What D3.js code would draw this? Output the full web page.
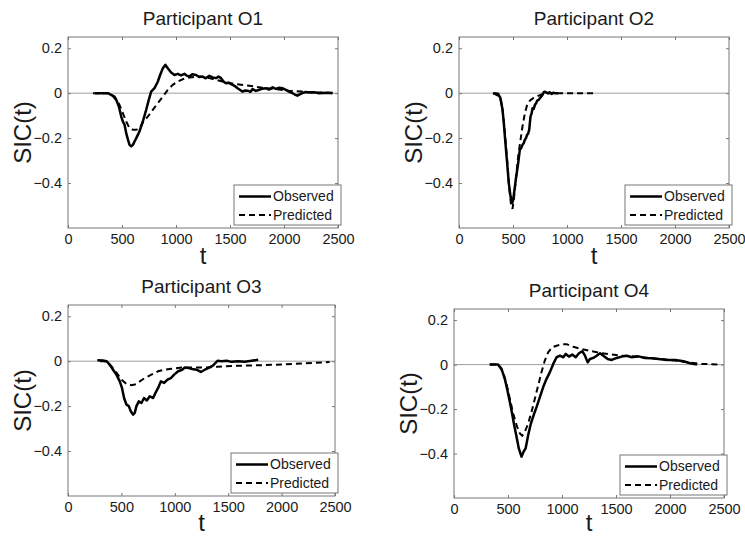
<!DOCTYPE html>
<html lang="en">
<head>
    <meta charset="UTF-8">
    <style>
        body {
            margin: 0;
            padding: 0;
            background-color: #fff;
            overflow: hidden;
        }

        #chart {
            display: block;
        }

        text {
            font-family: "Liberation Sans", Arial, sans-serif;
            fill: #1a1a1a;
        }

        .tick text {
            font-size: 14.5px;
        }

        .tick line {
            stroke: #777;
        }

        .box {
            fill: none;
            stroke: #777;
            stroke-width: 1px;
        }

        .zero {
            stroke: #888;
            stroke-width: 0.8px;
        }

        .observed {
            fill: none;
            stroke: #000;
            stroke-width: 2.5px;
            stroke-linejoin: round;
        }

        .predicted {
            fill: none;
            stroke: #000;
            stroke-width: 2px;
            stroke-dasharray: 6, 4;
        }
    </style>
</head>
<body>
    <svg id="chart"></svg>

    <script src="https://d3js.org/d3.v7.min.js"></script>
    <script>
        const width = 745;
        const height = 538;

        // chart data: [t, SIC(t)]
        const titles = ["Participant O1", "Participant O2", "Participant O3", "Participant O4"];
        const xTicks = [0, 500, 1000, 1500, 2000, 2500];
        const yTicks = [-0.4, -0.2, 0, 0.2];
        const legendLabels = ["Observed", "Predicted"];

        const observedO1 = [[250, 0], [369, 0], [416, -0.012], [447, -0.03], [471, -0.059], [493, -0.104], [508, -0.126],
            [524, -0.141], [539, -0.178], [555, -0.207], [570, -0.23], [585, -0.237], [601, -0.23], [616, -0.215],
            [632, -0.2], [662, -0.17], [693, -0.126], [724, -0.074], [748, -0.03], [770, 0.007], [801, 0.022],
            [832, 0.052], [853, 0.081], [878, 0.111], [902, 0.126], [924, 0.111], [955, 0.092], [986, 0.081],
            [1016, 0.086], [1047, 0.079], [1078, 0.086], [1100, 0.078], [1124, 0.074], [1150, 0.084], [1185, 0.081],
            [1215, 0.072], [1247, 0.074], [1275, 0.066], [1308, 0.077], [1340, 0.07], [1370, 0.067], [1395, 0.074],
            [1416, 0.067], [1440, 0.052], [1462, 0.044], [1490, 0.046], [1524, 0.037], [1550, 0.03], [1570, 0.022],
            [1595, 0.014], [1616, 0.007], [1640, 0.012], [1663, 0.011], [1690, 0.006], [1709, 0.018], [1740, 0.01],
            [1771, 0.015], [1800, 0.02], [1832, 0.022], [1860, 0.016], [1894, 0.026], [1925, 0.019], [1955, 0.024],
            [1985, 0.022], [2017, 0.015], [2050, 0.006], [2078, 0], [2100, -0.006], [2124, -0.011], [2150, -0.004],
            [2170, 0], [2200, 0.005], [2232, 0.003], [2280, 0.004], [2324, 0], [2400, 0.002], [2450, 0]];

        const predictedO1 = [[231, 0], [369, 0], [431, -0.015], [477, -0.052], [508, -0.089], [539, -0.126],
            [570, -0.156], [601, -0.163], [632, -0.163], [662, -0.156], [693, -0.13], [739, -0.104], [785, -0.074],
            [832, -0.044], [878, -0.015], [924, 0.015], [970, 0.037], [1016, 0.052], [1062, 0.062], [1124, 0.07],
            [1216, 0.074], [1308, 0.067], [1431, 0.052], [1555, 0.04], [1678, 0.033], [1801, 0.024], [1924, 0.018],
            [2047, 0.011], [2170, 0.007], [2293, 0.003], [2450, 0.002]];

        const observedO2 = [[315, 0], [362, -0.003], [384, -0.022], [403, -0.074], [415, -0.133], [430, -0.222],
            [446, -0.311], [461, -0.4], [477, -0.459], [492, -0.49], [500, -0.478], [508, -0.452], [526, -0.385],
            [548, -0.311], [563, -0.252], [575, -0.245], [588, -0.23], [600, -0.222], [610, -0.207], [620, -0.2],
            [631, -0.185], [640, -0.18], [650, -0.163], [662, -0.104], [672, -0.09], [681, -0.067], [692, -0.07],
            [703, -0.052], [714, -0.045], [724, -0.033], [737, -0.03], [749, -0.022], [762, -0.015], [774, -0.007],
            [786, 0.005], [798, 0.006], [812, 0.002], [826, 0], [840, 0.004], [857, -0.003], [872, 0.002],
            [888, 0], [919, 0]];

        const predictedO2 = [[315, 0], [378, -0.015], [403, -0.07], [424, -0.17], [446, -0.3], [464, -0.415],
            [480, -0.489], [495, -0.515], [508, -0.474], [526, -0.385], [548, -0.281], [570, -0.207], [588, -0.148],
            [610, -0.089], [631, -0.052], [656, -0.033], [687, -0.022], [733, -0.012], [780, -0.003], [842, 0],
            [1250, 0]];

        const observedO3 = [[275, 0.004], [328, 0.003], [360, 0], [391, -0.015], [422, -0.038], [453, -0.06],
            [485, -0.09], [506, -0.12], [525, -0.164], [547, -0.193], [569, -0.2], [588, -0.223], [609, -0.238],
            [625, -0.23], [641, -0.2], [663, -0.179], [688, -0.186], [712, -0.164], [738, -0.175], [766, -0.156],
            [797, -0.164], [819, -0.141], [844, -0.119], [869, -0.09], [900, -0.097], [932, -0.082], [963, -0.075],
            [994, -0.06], [1031, -0.045], [1069, -0.038], [1094, -0.028], [1125, -0.03], [1162, -0.035],
            [1204, -0.038], [1244, -0.048], [1281, -0.038], [1319, -0.03], [1359, -0.019], [1400, 0.002],
            [1437, 0], [1485, 0.002], [1532, -0.003], [1594, 0], [1656, -0.003], [1719, 0.002], [1781, 0.006]];

        const predictedO3 = [[300, 0], [343, 0], [406, -0.023], [453, -0.05], [500, -0.082], [547, -0.101],
            [594, -0.107], [625, -0.104], [672, -0.09], [719, -0.075], [781, -0.06], [844, -0.045], [906, -0.038],
            [969, -0.034], [1063, -0.028], [1156, -0.028], [1281, -0.028], [1400, -0.025], [1563, -0.021],
            [1719, -0.019], [1938, -0.016], [2200, -0.01], [2450, -0.004]];

        const observedO4 = [[331, 0], [408, 0], [440, -0.019], [470, -0.064], [495, -0.116], [517, -0.168],
            [538, -0.22], [557, -0.272], [579, -0.325], [600, -0.377], [625, -0.414], [644, -0.392], [663, -0.377],
            [687, -0.317], [712, -0.265], [737, -0.228], [765, -0.19], [795, -0.146], [826, -0.101], [857, -0.064],
            [888, -0.034], [919, 0.003], [950, 0.033], [981, 0.04], [1012, 0.033], [1034, 0.048], [1064, 0.036],
            [1095, 0.045], [1127, 0.033], [1157, 0.051], [1188, 0.06], [1213, 0.04], [1238, 0.01], [1259, 0.025],
            [1290, 0.03], [1321, 0.04], [1352, 0.051], [1383, 0.04], [1423, 0.025], [1461, 0.021], [1507, 0.03],
            [1553, 0.036], [1600, 0.04], [1646, 0.033], [1708, 0.037], [1770, 0.03], [1832, 0.028], [1893, 0.025],
            [1971, 0.021], [2048, 0.021], [2125, 0.015], [2187, 0.006], [2250, 0]];

        const predictedO4 = [[331, 0], [408, 0], [455, -0.034], [486, -0.087], [517, -0.153], [548, -0.22],
            [579, -0.272], [610, -0.31], [631, -0.32], [656, -0.302], [687, -0.265], [718, -0.212], [749, -0.153],
            [780, -0.093], [810, -0.034], [841, 0.018], [872, 0.055], [909, 0.078], [950, 0.085], [996, 0.092],
            [1043, 0.092], [1105, 0.08], [1182, 0.07], [1275, 0.06], [1368, 0.051], [1461, 0.045], [1553, 0.04],
            [1677, 0.036], [1801, 0.03], [1925, 0.025], [2048, 0.018], [2172, 0.01], [2296, 0.003], [2470, 0]];

        const observedSeries = [observedO1, observedO2, observedO3, observedO4];
        const predictedSeries = [predictedO1, predictedO2, predictedO3, predictedO4];

        // axes boxes in page pixels
        const boxes = [
            { left: 68, right: 338, top: 37, bottom: 228 },
            { left: 459, right: 729, top: 37, bottom: 228 },
            { left: 68, right: 335, top: 305, bottom: 496 },
            { left: 454, right: 724, top: 309, bottom: 498 }
        ];

        const svg = d3.select("#chart")
            .attr("width", width)
            .attr("height", height);

        const fmtY = d => d === 0 ? "0" : d3.format(".1f")(d);

        boxes.forEach((b, i) => {
            const x = d3.scaleLinear().domain([0, 2500]).range([b.left, b.right]);
            const y = d3.scaleLinear().domain([-0.6, 0.25]).range([b.bottom, b.top]);
            const g = svg.append("g");

            // zero reference line
            g.append("line")
                .attr("class", "zero")
                .attr("x1", b.left).attr("x2", b.right)
                .attr("y1", y(0)).attr("y2", y(0));

            // ticks on all four sides, pointing inward
            g.append("g")
                .attr("transform", `translate(0,${b.bottom})`)
                .call(d3.axisBottom(x).tickValues(xTicks).tickSize(-3).tickPadding(6).tickFormat(d3.format("d")))
                .call(a => a.select(".domain").remove());
            g.append("g")
                .attr("transform", `translate(0,${b.top})`)
                .call(d3.axisTop(x).tickValues(xTicks).tickSize(-3).tickFormat(""))
                .call(a => a.select(".domain").remove());
            g.append("g")
                .attr("transform", `translate(${b.left},0)`)
                .call(d3.axisLeft(y).tickValues(yTicks).tickSize(-3).tickPadding(6).tickFormat(fmtY))
                .call(a => a.select(".domain").remove());
            g.append("g")
                .attr("transform", `translate(${b.right},0)`)
                .call(d3.axisRight(y).tickValues(yTicks).tickSize(-3).tickFormat(""))
                .call(a => a.select(".domain").remove());

            g.selectAll(".tick text").attr("font-family", null).attr("font-size", null);

            g.append("rect")
                .attr("class", "box")
                .attr("x", b.left).attr("y", b.top)
                .attr("width", b.right - b.left).attr("height", b.bottom - b.top);

            const line = d3.line().x(d => x(d[0])).y(d => y(d[1]));

            g.append("path")
                .datum(predictedSeries[i])
                .attr("class", "predicted")
                .attr("d", line);
            g.append("path")
                .datum(observedSeries[i])
                .attr("class", "observed")
                .attr("d", line);

            // title and axis labels
            g.append("text")
                .attr("x", (b.left + b.right) / 2)
                .attr("y", b.top - 12)
                .attr("text-anchor", "middle")
                .attr("font-size", 19)
                .text(titles[i]);
            g.append("text")
                .attr("x", (b.left + b.right) / 2)
                .attr("y", Math.min(b.bottom + 36, height - 7))
                .attr("text-anchor", "middle")
                .attr("font-size", 24)
                .text("t");
            g.append("text")
                .attr("transform", `translate(${b.left - 37},${(b.top + b.bottom) / 2}) rotate(-90)`)
                .attr("text-anchor", "middle")
                .attr("font-size", 24)
                .text("SIC(t)");

            // legend
            const lx = b.right - 104, ly = b.bottom - 43;
            const lg = g.append("g").attr("transform", `translate(${lx},${ly})`);
            lg.append("rect")
                .attr("width", 107).attr("height", 40)
                .attr("fill", "#fff").attr("stroke", "#777");
            legendLabels.forEach((lab, j) => {
                const yy = 11.5 + j * 18.5;
                lg.append("line")
                    .attr("class", j === 0 ? "observed" : "predicted")
                    .attr("x1", 5).attr("x2", 37)
                    .attr("y1", yy).attr("y2", yy);
                lg.append("text")
                    .attr("x", 39).attr("y", yy)
                    .attr("dy", "0.35em")
                    .attr("font-size", 14)
                    .text(lab);
            });
        });
    </script>
</body>
</html>
